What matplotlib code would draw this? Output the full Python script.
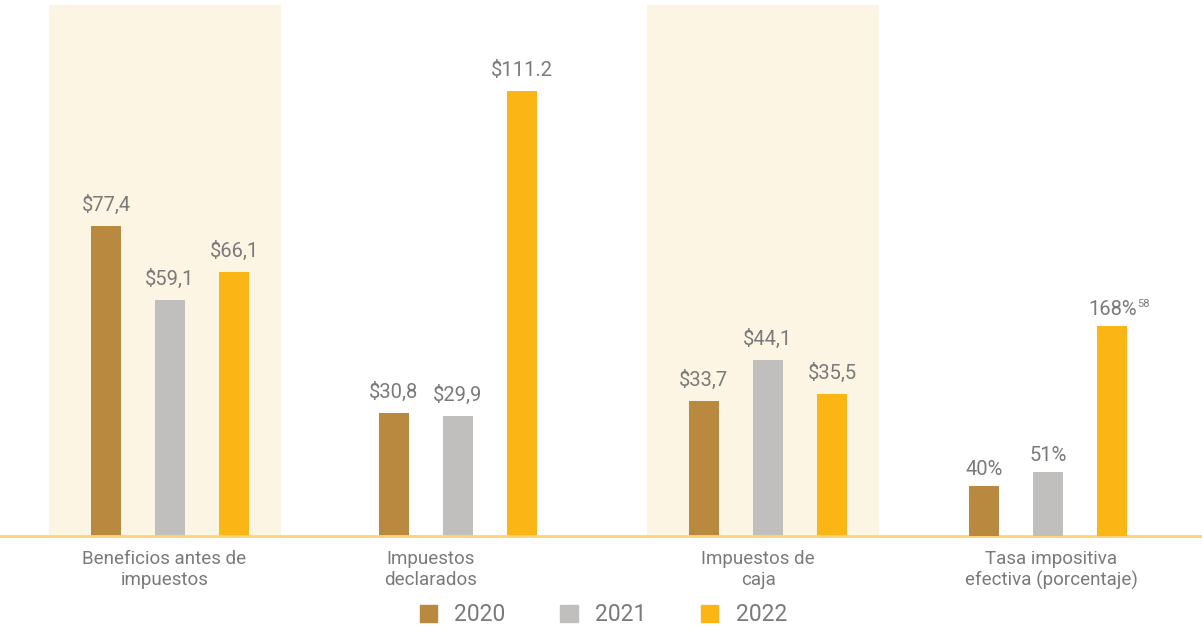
import matplotlib
matplotlib.use("Agg")
import matplotlib.pyplot as plt
from matplotlib.patches import Patch
import numpy as np

# datos
categories = ["Beneficios antes de\nimpuestos", "Impuestos\ndeclarados",
              "Impuestos de\ncaja", "Tasa impositiva\nefectiva (porcentaje)"]
years = ["2020", "2021", "2022"]
money_2020 = [77.4, 30.8, 33.7]
money_2021 = [59.1, 29.9, 44.1]
money_2022 = [66.1, 111.2, 35.5]
money_labels = [["$77,4", "$30,8", "$33,7"],
                ["$59,1", "$29,9", "$44,1"],
                ["$66,1", "$111.2", "$35,5"]]
rate_values = [40, 51, 168]
rate_labels = ["40%", "51%", "168%"]
rate_note = "58"

COLORS = ["#B8893E", "#C0BFBD", "#FBB616"]
BAND = "#FDF5E3"
BASE = "#FDD47A"
TXT = "#7A7A7A"

plt.rcParams["font.family"] = ["Roboto", "DejaVu Sans"]

fig = plt.figure(figsize=(12.02, 6.27), dpi=100)
ax = fig.add_axes([0, 91 / 627, 1, 531 / 627])
ax2 = ax.twinx()

# posiciones de grupo (algo irregulares como en el original)
x = np.array([0, 0.984, 2.043, 3.0])
label_pos = np.array([-0.02, 0.89, 2.01, 3.01])
width = 0.1025
offset = 0.219

# bandas de fondo
for g in (0, 2):
    ax.axvspan(x[g] - 0.414, x[g] + 0.379, color=BAND, zorder=0, lw=0)

money = [money_2020, money_2021, money_2022]
for i in range(3):
    xs = x[:3] + (i - 1) * offset
    bars = ax.bar(xs, money[i], width, color=COLORS[i], zorder=2)
    for b, lab in zip(bars, money_labels[i]):
        ax.annotate(lab, (b.get_x() + b.get_width() / 2, b.get_height()),
                    xytext=(0, 8), textcoords="offset points", ha="center",
                    va="bottom", fontsize=14.5, color=TXT)

for i in range(3):
    xr = x[3] + (i - 1) * offset
    ax2.bar(xr, rate_values[i], width, color=COLORS[i], zorder=2)
    ax2.annotate(rate_labels[i], (xr, rate_values[i]), xytext=(0, 5),
                 textcoords="offset points", ha="center", va="bottom",
                 fontsize=14.5, color=TXT)
ax2.annotate(rate_note, (x[3] + offset, rate_values[2]), xytext=(18, 12),
             textcoords="offset points", ha="left", va="bottom",
             fontsize=8, color=TXT)

ax.set_xlim(-0.581, 3.526)
ax.set_ylim(0, 132.75)
ax2.set_ylim(0, 425)

for a in (ax, ax2):
    for s in a.spines.values():
        s.set_visible(False)
    a.set_yticks([])
ax.spines["bottom"].set_visible(True)
ax.spines["bottom"].set_color(BASE)
ax.spines["bottom"].set_linewidth(2)
ax.set_xticks(label_pos)
ax.set_xticklabels(categories, fontsize=13.5, color=TXT, linespacing=1.2)
ax.tick_params(axis="x", length=0, pad=10)
ax.patch.set_visible(False)

handles = [Patch(color=c, label=y) for c, y in zip(COLORS, years)]
fig.legend(handles=handles, loc="lower center", ncol=3, frameon=False,
           bbox_to_anchor=(0.502, -0.032), fontsize=16.5, labelcolor=TXT,
           handlelength=0.75, handleheight=0.75, columnspacing=2.4,
           handletextpad=0.75)

fig.savefig("out.png", dpi=100)
